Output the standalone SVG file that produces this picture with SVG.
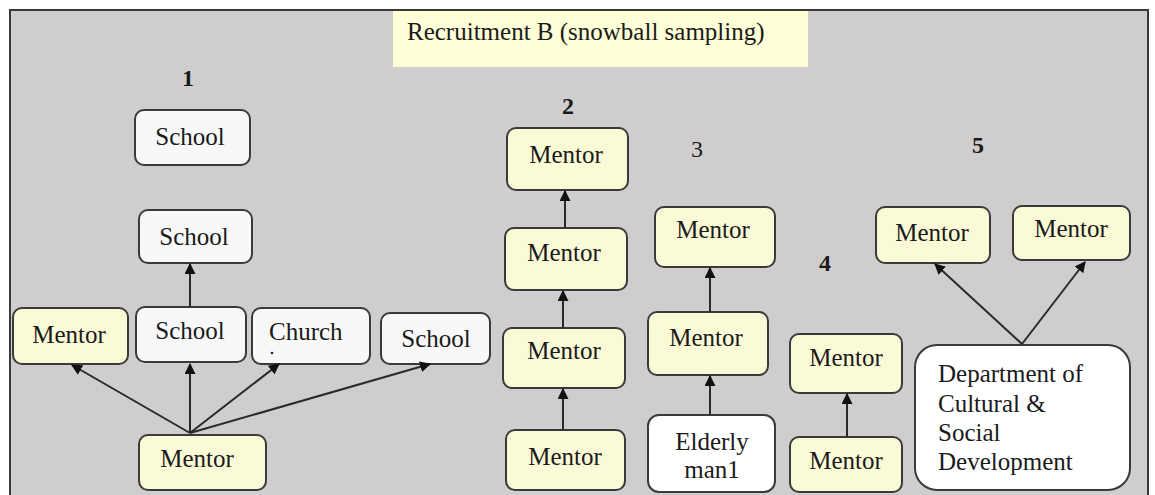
<svg xmlns="http://www.w3.org/2000/svg" width="1155" height="495" viewBox="0 0 1155 495">
<style>
text{font-family:'Liberation Serif','Tinos','DejaVu Serif',serif}
.t{font-size:25px;fill:#1a1a1a}
.c{text-anchor:middle}
.n{font-size:24px;font-weight:bold;fill:#1a1a1a;text-anchor:middle}
.y{fill:#fbfad6;stroke:#3a3a3a;stroke-width:2}
.w{fill:#f8f8f8;stroke:#3a3a3a;stroke-width:2}
.ww{fill:#ffffff;stroke:#3a3a3a;stroke-width:2}
.e{stroke:#2a2a2a;stroke-width:2;fill:none;marker-end:url(#ah)}
</style>
<defs>
<marker id="ah" viewBox="0 0 10 10" refX="9" refY="5" markerWidth="5.5" markerHeight="5.5" orient="auto" markerUnits="strokeWidth">
<path d="M0,0 L10,5 L0,10 z" fill="#111"/>
</marker>
</defs>
<rect x="0" y="0" width="1155" height="495" fill="#ffffff"/>
<rect id="frame" x="10" y="10" width="1138" height="495" fill="#cfcdce" stroke="#3a3a3a" stroke-width="2"/>
<g id="title">
<rect x="393" y="11" width="415" height="56" fill="#ffffd8"/>
<text class="t" x="407" y="40">Recruitment B (snowball sampling)</text>
</g>
<g id="labels">
<text class="n" x="188" y="86">1</text>
<text class="n" x="568" y="114">2</text>
<text class="t c" x="697" y="157" style="font-size:24px">3</text>
<text class="n" x="825" y="271">4</text>
<text class="n" x="978" y="153">5</text>
</g>
<g id="school1"><rect class="w" x="135" y="110" width="115" height="55" rx="9"/><text class="t c" x="190" y="145">School</text></g>
<g id="school2"><rect class="w" x="139" y="210" width="113" height="53" rx="9"/><text class="t c" x="194" y="245">School</text></g>
<g id="mentor1a"><rect class="y" x="13" y="308" width="115" height="56" rx="9"/><text class="t c" x="69" y="343">Mentor</text></g>
<g id="school3"><rect class="w" x="136" y="307" width="110" height="55" rx="9"/><text class="t c" x="190" y="339">School</text></g>
<g id="church"><rect class="w" x="252" y="308" width="118" height="56" rx="9"/><text class="t" x="269" y="340">Church</text><circle cx="272" cy="353" r="1.3" fill="#222"/></g>
<g id="school4"><rect class="w" x="381" y="313" width="109" height="51" rx="9"/><text class="t c" x="436" y="347">School</text></g>
<g id="mentor1b"><rect class="y" x="139" y="435" width="127" height="55" rx="9"/><text class="t c" x="197" y="467">Mentor</text></g>

<g id="mentor2a"><rect class="y" x="507" y="128" width="121" height="62" rx="9"/><text class="t c" x="566" y="163">Mentor</text></g>
<g id="mentor2b"><rect class="y" x="505" y="228" width="122" height="62" rx="9"/><text class="t c" x="564" y="261">Mentor</text></g>
<g id="mentor2c"><rect class="y" x="503" y="328" width="122" height="60" rx="9"/><text class="t c" x="564" y="359">Mentor</text></g>
<g id="mentor2d"><rect class="y" x="506" y="430" width="119" height="60" rx="9"/><text class="t c" x="565" y="465">Mentor</text></g>

<g id="mentor3a"><rect class="y" x="655" y="207" width="120" height="60" rx="9"/><text class="t c" x="713" y="238">Mentor</text></g>
<g id="mentor3b"><rect class="y" x="648" y="312" width="120" height="63" rx="9"/><text class="t c" x="706" y="346">Mentor</text></g>
<g id="elderly"><rect class="ww" x="648" y="415" width="127" height="77" rx="11"/><text class="t c" x="712" y="450">Elderly</text><text class="t c" x="712" y="478">man1</text></g>

<g id="mentor4a"><rect class="y" x="790" y="334" width="112" height="59" rx="9"/><text class="t c" x="846" y="366">Mentor</text></g>
<g id="mentor4b"><rect class="y" x="790" y="437" width="112" height="55" rx="9"/><text class="t c" x="846" y="469">Mentor</text></g>

<g id="mentor5a"><rect class="y" x="876" y="207" width="114" height="56" rx="9"/><text class="t c" x="932" y="241">Mentor</text></g>
<g id="mentor5b"><rect class="y" x="1013" y="206" width="117" height="54" rx="9"/><text class="t c" x="1071" y="237">Mentor</text></g>
<g id="dept"><rect class="ww" x="915" y="345" width="215" height="145" rx="22"/>
<text class="t" x="938" y="382">Department of</text>
<text class="t" x="938" y="412">Cultural &amp;</text>
<text class="t" x="938" y="441">Social</text>
<text class="t" x="938" y="470">Development</text></g>

<g id="connectors">
<line class="e" x1="190" y1="433" x2="72" y2="365"/>
<line class="e" x1="190" y1="433" x2="190" y2="364"/>
<line class="e" x1="190" y1="433" x2="279" y2="364"/>
<line class="e" x1="190" y1="433" x2="430" y2="364"/>
<line class="e" x1="190" y1="307" x2="190" y2="264"/>
<line class="e" x1="565" y1="228" x2="565" y2="191"/>
<line class="e" x1="563" y1="328" x2="563" y2="291"/>
<line class="e" x1="563" y1="430" x2="563" y2="389"/>
<line class="e" x1="710" y1="312" x2="710" y2="268"/>
<line class="e" x1="710" y1="415" x2="710" y2="376"/>
<line class="e" x1="847" y1="437" x2="847" y2="394"/>
<line class="e" x1="1022" y1="344" x2="935" y2="264"/>
<line class="e" x1="1022" y1="344" x2="1085" y2="262"/>
</g>
</svg>
